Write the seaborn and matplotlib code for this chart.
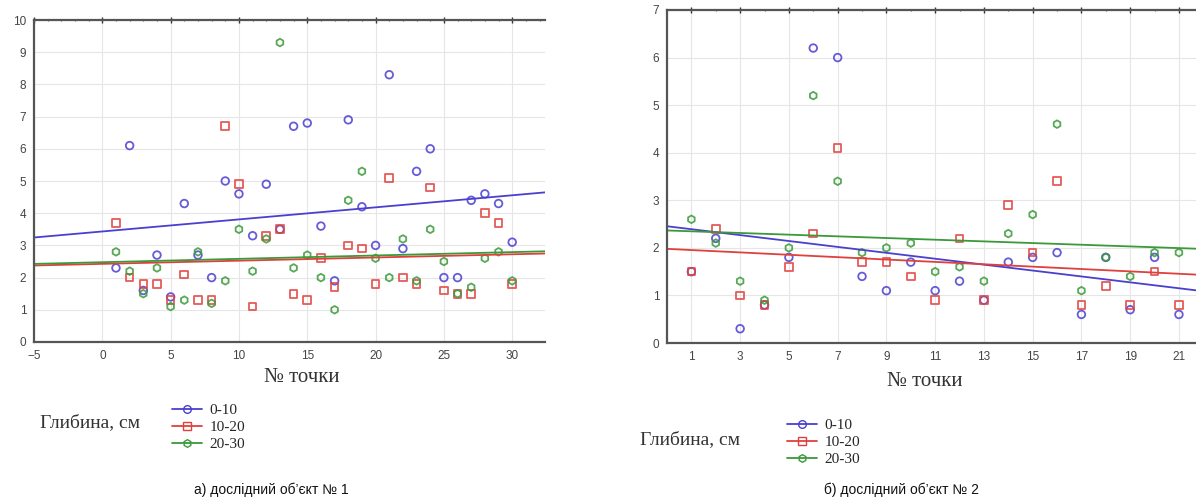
import numpy as np
import pandas as pd
import seaborn as sns
import matplotlib.pyplot as plt
from matplotlib.lines import Line2D
from matplotlib.ticker import MultipleLocator

# object 1: points 1..30
points_1 = list(range(1, 31))
d1_0_10 = [2.3, 6.1, 1.6, 2.7, 1.4, 4.3, 2.7, 2.0, 5.0, 4.6,
           3.3, 4.9, 3.5, 6.7, 6.8, 3.6, 1.9, 6.9, 4.2, 3.0,
           8.3, 2.9, 5.3, 6.0, 2.0, 2.0, 4.4, 4.6, 4.3, 3.1]
d1_10_20 = [3.7, 2.0, 1.8, 1.8, 1.3, 2.1, 1.3, 1.3, 6.7, 4.9,
            1.1, 3.3, 3.5, 1.5, 1.3, 2.6, 1.7, 3.0, 2.9, 1.8,
            5.1, 2.0, 1.8, 4.8, 1.6, 1.5, 1.5, 4.0, 3.7, 1.8]
d1_20_30 = [2.8, 2.2, 1.5, 2.3, 1.1, 1.3, 2.8, 1.2, 1.9, 3.5,
            2.2, 3.2, 9.3, 2.3, 2.7, 2.0, 1.0, 4.4, 5.3, 2.6,
            2.0, 3.2, 1.9, 3.5, 2.5, 1.5, 1.7, 2.6, 2.8, 1.9]

# object 2: points 1..21
points_2 = list(range(1, 22))
d2_0_10 = [1.5, 2.2, 0.3, 0.8, 1.8, 6.2, 6.0, 1.4, 1.1, 1.7,
           1.1, 1.3, 0.9, 1.7, 1.8, 1.9, 0.6, 1.8, 0.7, 1.8, 0.6]
d2_10_20 = [1.5, 2.4, 1.0, 0.8, 1.6, 2.3, 4.1, 1.7, 1.7, 1.4,
            0.9, 2.2, 0.9, 2.9, 1.9, 3.4, 0.8, 1.2, 0.8, 1.5, 0.8]
d2_20_30 = [2.6, 2.1, 1.3, 0.9, 2.0, 5.2, 3.4, 1.9, 2.0, 2.1,
            1.5, 1.6, 1.3, 2.3, 2.7, 4.6, 1.1, 1.8, 1.4, 1.9, 1.9]

depths = ['0-10', '10-20', '20-30']
colors = ['#4b3fd0', '#e0403c', '#3a9a3a']
markers = ['o', 's', 'h']

sns.set_style('white')
plt.rcParams['font.family'] = ['Liberation Sans', 'DejaVu Sans']

fig = plt.figure(figsize=(11.96, 5.03), dpi=100)
ax1 = fig.add_axes([34 / 1196, 1 - 342 / 503, 511 / 1196, 322 / 503])
ax2 = fig.add_axes([667 / 1196, 1 - 343 / 503, 529 / 1196, 333 / 503])


def draw(ax, x, series, xlim, ylim):
    ax.set_xlim(*xlim)
    ax.set_ylim(*ylim)
    for vals, c, m in zip(series, colors, markers):
        sns.regplot(x=np.array(x, dtype=float), y=np.array(vals), ax=ax, ci=None,
                    truncate=False, marker=m, color=c,
                    scatter_kws={'facecolors': 'none', 'edgecolors': c,
                                 's': 30, 'linewidths': 1.3, 'alpha': 0.85},
                    line_kws={'lw': 1.3})
    ax.set_xlim(*xlim)
    ax.set_ylim(*ylim)
    ax.grid(True, color='#e6e6e6', lw=0.8)
    ax.set_axisbelow(True)
    for s in ['left', 'bottom', 'top']:
        ax.spines[s].set_color('#555555')
        ax.spines[s].set_linewidth(1.6)
    ax.spines['right'].set_visible(False)
    ax.tick_params(which='major', direction='inout', length=4, width=1,
                   colors='#333333', labelsize=8.5, labelcolor='#444444')
    ax.tick_params(which='minor', direction='inout', length=2, width=0.8,
                   colors='#555555')
    ax.tick_params(top=True, which='both', labeltop=False)
    ax.set_xlabel('')
    ax.set_ylabel('')


draw(ax1, points_1, [d1_0_10, d1_10_20, d1_20_30], (-5, 32.4), (0, 10))
ax1.set_xticks(np.arange(-5, 31, 5))
ax1.xaxis.set_minor_locator(MultipleLocator(1))
ax1.set_yticks(np.arange(0, 11, 1))
ax1.yaxis.set_minor_locator(MultipleLocator(0.5))

draw(ax2, points_2, [d2_0_10, d2_10_20, d2_20_30], (0, 21.7), (0, 7))
ax2.set_xticks(np.arange(1, 22, 2))
ax2.xaxis.set_minor_locator(MultipleLocator(1))
ax2.set_yticks(np.arange(0, 8, 1))
ax2.yaxis.set_minor_locator(MultipleLocator(0.25))

serif = ['Liberation Serif', 'DejaVu Serif']
fig.text(302 / 1196, 1 - 378 / 503, '№ точки', family=serif, fontsize=15,
         ha='center', va='center', color='#333333')
fig.text(925 / 1196, 1 - 381 / 503, '№ точки', family=serif, fontsize=15,
         ha='center', va='center', color='#333333')

handles = [Line2D([], [], color=c, marker=m, markerfacecolor='none',
                  markeredgecolor=c, markersize=5.5, lw=1.3)
           for c, m in zip(colors, markers)]
for tx, ty, lx, ly in [(40, 423, 164, 396), (640, 440, 779, 411)]:
    fig.text(tx / 1196, 1 - ty / 503, 'Глибина, см', family=serif, fontsize=14,
             ha='left', va='center', color='#333333')
    fig.legend(handles, depths, loc='upper left',
               bbox_to_anchor=(lx / 1196, 1 - ly / 503), frameon=False,
               prop={'family': serif, 'size': 11}, handlelength=2,
               labelspacing=0.22, handletextpad=0.5, borderpad=0)

fig.text(271 / 1196, 1 - 490 / 503, 'а) дослідний об’єкт № 1', fontsize=10,
         ha='center', va='center', color='#111111')
fig.text(901 / 1196, 1 - 490 / 503, 'б) дослідний об’єкт № 2', fontsize=10,
         ha='center', va='center', color='#111111')

fig.savefig('out.png', dpi=100)
